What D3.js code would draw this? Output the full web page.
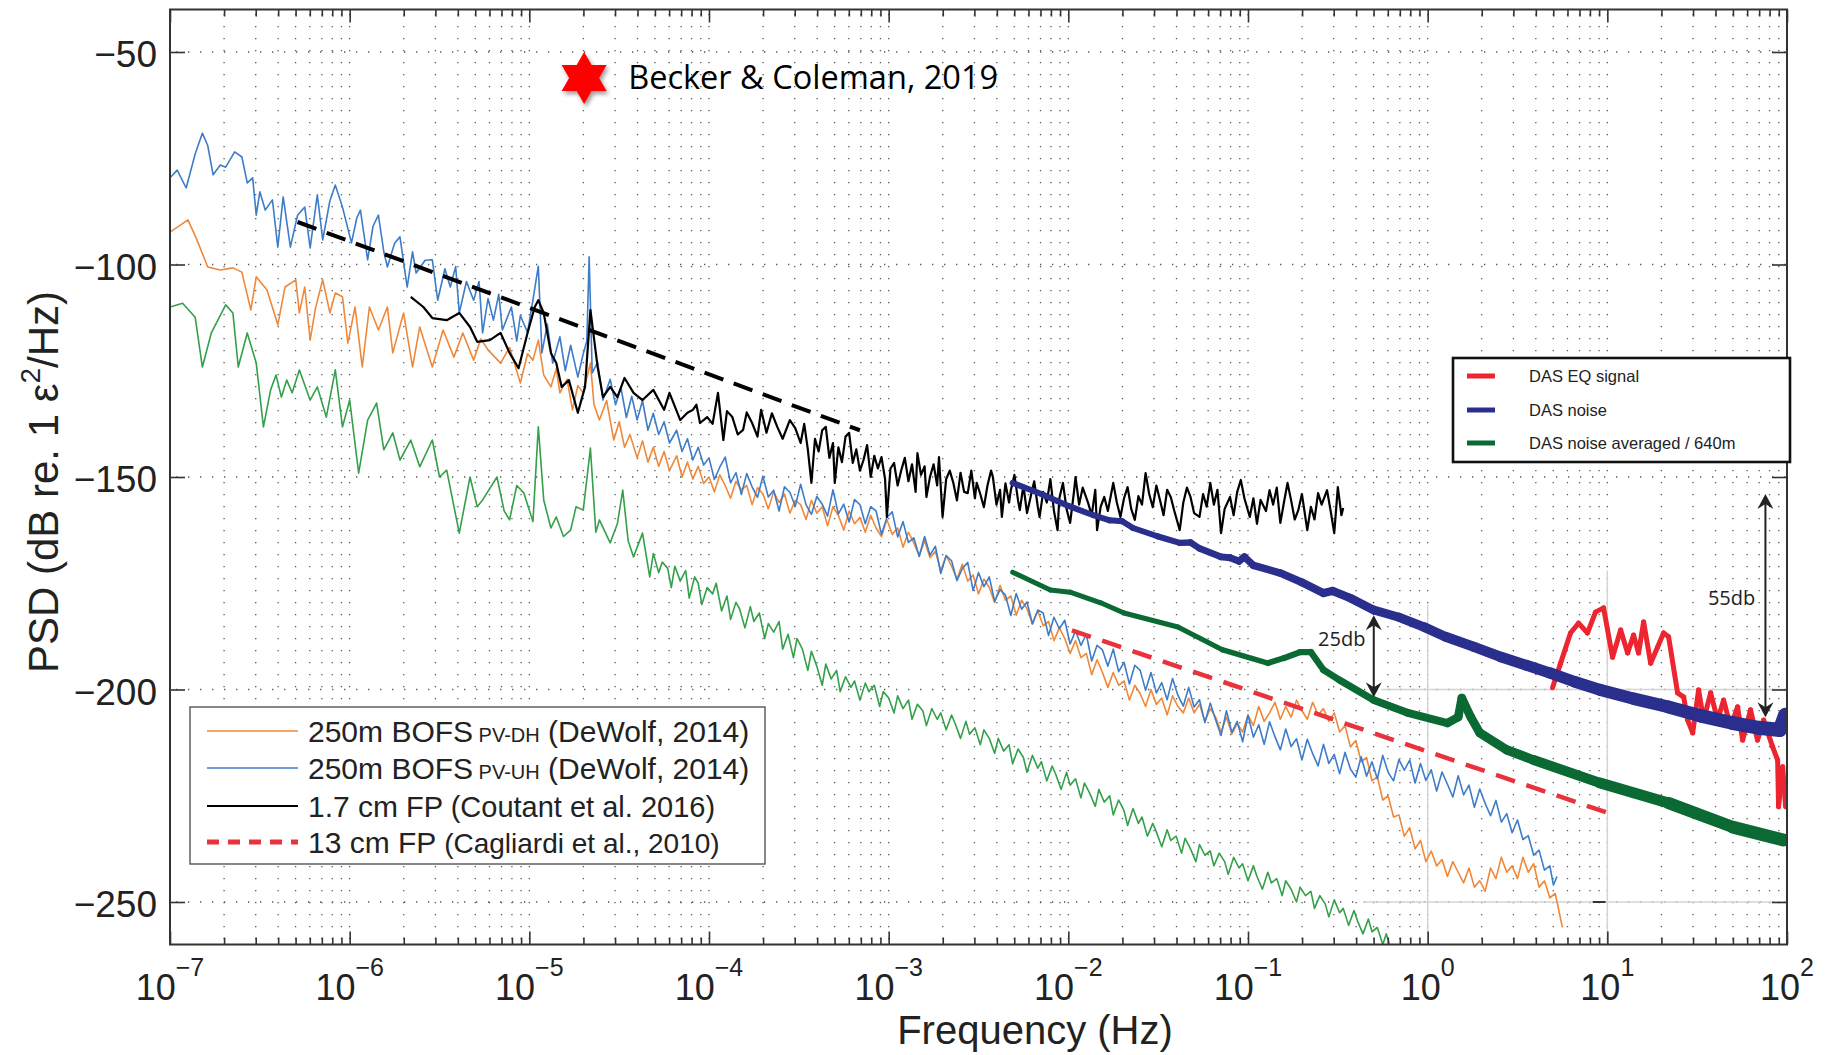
<!DOCTYPE html>
<html>
<head>
<meta charset="utf-8">
<script src="https://cdn.jsdelivr.net/npm/d3@7"></script>
<style>
  body { margin: 0; background: #fff; }
  svg { display: block; font-family: "Liberation Sans", Arial, Helvetica, sans-serif; }
</style>
</head>
<body>
<script>
// every series: [log10 frequency (Hz), PSD (dB)]
const pvDh = [[-7.00,-92.4],[-6.90,-89.5],[-6.85,-94.2],[-6.79,-100.6],[-6.72,-101.3],[-6.65,-100.8],[-6.60,-101.8],[-6.55,-110.7],[-6.52,-102.9],[-6.46,-106.0],[-6.40,-114.2],[-6.36,-105.3],[-6.30,-103.6],[-6.28,-111.4],[-6.25,-105.3],[-6.22,-117.8],[-6.19,-110.2],[-6.15,-103.6],[-6.11,-111.4],[-6.08,-106.7],[-6.04,-107.6],[-6.01,-118.5],[-5.97,-110.0],[-5.93,-124.1],[-5.89,-110.0],[-5.84,-115.4],[-5.79,-110.0],[-5.76,-120.8],[-5.70,-111.4],[-5.65,-124.1],[-5.61,-114.7],[-5.54,-124.1],[-5.48,-115.4],[-5.42,-121.8],[-5.37,-116.1],[-5.31,-122.5],[-5.27,-117.5],[-5.23,-120.1],[-5.16,-123.2],[-5.11,-119.5],[-5.05,-127.9],[-5.01,-121.0],[-4.98,-122.5],[-4.95,-117.8],[-4.92,-126.0],[-4.88,-128.8],[-4.85,-124.5],[-4.83,-130.2],[-4.79,-127.0],[-4.76,-134.2],[-4.73,-128.5],[-4.70,-130.2],[-4.66,-123.2],[-4.64,-133.0],[-4.61,-136.6],[-4.57,-132.0],[-4.53,-141.3],[-4.50,-137.0],[-4.47,-143.0],[-4.44,-140.0],[-4.40,-145.5],[-4.37,-141.5],[-4.34,-146.5],[-4.31,-143.0],[-4.28,-147.5],[-4.25,-144.0],[-4.22,-148.5],[-4.18,-145.0],[-4.15,-150.0],[-4.12,-146.5],[-4.09,-150.5],
  [-4.06,-147.5],[-4.03,-151.5],[-4.00,-150.0],[-3.97,-153.5],[-3.94,-149.5],[-3.91,-152.0],[-3.88,-155.0],[-3.85,-151.0],[-3.82,-153.0],[-3.79,-152.0],[-3.76,-156.5],[-3.73,-152.5],[-3.70,-154.0],[-3.67,-157.5],[-3.64,-153.5],[-3.61,-156.0],[-3.58,-154.0],[-3.55,-158.5],[-3.52,-155.5],[-3.49,-156.5],[-3.46,-160.0],[-3.43,-155.5],[-3.40,-158.5],[-3.37,-157.0],[-3.34,-161.5],[-3.31,-157.0],[-3.28,-159.0],[-3.25,-162.5],[-3.22,-158.0],[-3.19,-161.0],[-3.16,-159.5],[-3.13,-163.0],[-3.10,-159.0],[-3.07,-162.0],[-3.04,-164.0],[-3.01,-160.0],[-2.98,-163.5],[-2.95,-162.0],[-2.92,-166.5],[-2.89,-163.0],[-2.86,-165.5],[-2.83,-168.5],[-2.80,-165.0],[-2.77,-169.0],[-2.74,-167.5],[-2.71,-172.0],[-2.68,-168.5],[-2.65,-171.0],[-2.62,-174.0],[-2.59,-170.5],[-2.56,-174.5],[-2.53,-173.0],[-2.50,-177.5],[-2.47,-174.0],[-2.44,-176.0],[-2.41,-179.5],[-2.38,-175.5],[-2.35,-179.0],[-2.32,-178.0],[-2.29,-182.5],[-2.26,-179.0],[-2.23,-181.0],[-2.20,-184.5],[-2.17,-181.5],[-2.14,-185.0],[-2.11,-184.0],[-2.08,-188.5],[-2.05,-185.5],[-2.02,-188.0],[-1.99,-191.5],[-1.96,-188.5],[-1.93,-192.5],[-1.90,-191.5],[-1.87,-196.5],[-1.84,-193.0],[-1.81,-196.0],[-1.78,-199.5],[-1.75,-196.0],[-1.72,-199.0],[-1.69,-198.0],[-1.66,-202.5],[-1.63,-199.0],[-1.60,-201.0],[-1.57,-204.0],[-1.54,-200.0],[-1.51,-203.5],[-1.48,-202.0],[-1.45,-206.0],[-1.42,-201.5],[-1.39,-204.0],[-1.36,-205.5],[-1.33,-202.0],[-1.30,-205.5],[-1.27,-203.5],[-1.24,-207.5],[-1.21,-204.5],[-1.18,-206.5],[-1.15,-210.0],[-1.12,-206.5],[-1.09,-210.5],[-1.06,-208.0],[-1.03,-210.0],[-1.00,-206.0],[-0.97,-208.5],[-0.94,-204.0],[-0.91,-207.5],[-0.88,-205.5],[-0.85,-203.0],[-0.82,-207.0],[-0.79,-204.0],[-0.76,-206.5],[-0.73,-202.5],[-0.70,-205.0],[-0.67,-207.0],[-0.64,-203.0],[-0.61,-206.0],[-0.58,-204.5],[-0.55,-207.5],[-0.52,-205.5],[-0.49,-210.0],[-0.46,-208.5],[-0.43,-213.5],[-0.40,-212.0],[-0.37,-217.0],[-0.34,-216.0],[-0.31,-221.5],[-0.28,-220.5],[-0.25,-226.0],[-0.22,-225.0],[-0.19,-230.0],[-0.16,-229.5],[-0.13,-234.5],[-0.10,-232.5],[-0.07,-237.5],[-0.04,-235.5],[-0.01,-240.5],[0.02,-238.0],[0.05,-241.5],[0.08,-240.0],[0.11,-244.0],[0.14,-240.5],[0.17,-243.0],[0.20,-245.5],[0.23,-242.0],[0.26,-246.5],[0.29,-245.0],[0.32,-247.5],[0.35,-242.0],[0.38,-244.5],[0.41,-239.5],[0.44,-243.0],[0.47,-241.5],[0.50,-244.5],[0.53,-239.5],[0.56,-243.0],[0.59,-241.0],[0.62,-246.5],[0.65,-245.0],[0.68,-249.0],[0.71,-248.0],[0.73,-252.0],[0.75,-256.0]];

const pvUh = [[-7.00,-79.6],[-6.96,-77.8],[-6.91,-82.0],[-6.86,-74.0],[-6.82,-69.1],[-6.79,-72.0],[-6.76,-78.9],[-6.72,-76.6],[-6.69,-77.1],[-6.64,-73.5],[-6.60,-74.7],[-6.57,-80.8],[-6.54,-79.6],[-6.52,-88.4],[-6.50,-82.9],[-6.47,-87.2],[-6.43,-84.8],[-6.40,-95.9],[-6.37,-84.1],[-6.33,-95.9],[-6.29,-88.4],[-6.25,-86.5],[-6.22,-96.1],[-6.18,-83.6],[-6.15,-94.2],[-6.11,-85.0],[-6.08,-81.3],[-6.04,-86.5],[-5.99,-94.9],[-5.96,-89.0],[-5.94,-87.2],[-5.90,-98.9],[-5.87,-91.0],[-5.84,-88.4],[-5.81,-97.0],[-5.79,-100.6],[-5.75,-95.0],[-5.72,-93.5],[-5.68,-105.3],[-5.65,-97.0],[-5.63,-102.0],[-5.58,-99.0],[-5.54,-98.9],[-5.51,-108.4],[-5.47,-101.0],[-5.44,-105.3],[-5.41,-100.5],[-5.39,-111.4],[-5.35,-104.0],[-5.31,-108.4],[-5.28,-104.0],[-5.26,-116.1],[-5.23,-108.0],[-5.20,-113.1],[-5.17,-107.0],[-5.15,-115.4],[-5.10,-110.0],[-5.07,-118.0],[-5.05,-112.0],[-5.01,-116.0],[-4.98,-108.4],[-4.95,-100.4],[-4.93,-120.8],[-4.90,-114.0],[-4.87,-123.2],[-4.83,-117.0],[-4.80,-125.0],[-4.77,-119.0],[-4.73,-126.5],[-4.70,-121.0],[-4.68,-118.0],[-4.667,-98.2],[-4.65,-125.5],[-4.62,-123.0],[-4.59,-131.9],[-4.55,-127.0],[-4.52,-133.0],[-4.49,-129.0],[-4.46,-136.0],[-4.43,-131.0],[-4.40,-136.6],[-4.37,-132.0],[-4.34,-139.0],[-4.31,-135.0],[-4.28,-140.0],[-4.25,-137.0],[-4.22,-142.0],[-4.18,-139.0],[-4.15,-144.0],[-4.12,-141.0],[-4.09,-146.0],
  [-4.06,-143.0],[-4.03,-147.2],[-4.00,-145.5],[-3.97,-150.6],[-3.94,-147.7],[-3.91,-145.3],[-3.88,-151.4],[-3.85,-149.0],[-3.82,-154.1],[-3.79,-149.2],[-3.76,-152.3],[-3.73,-154.8],[-3.70,-149.8],[-3.67,-154.7],[-3.64,-153.1],[-3.61,-158.0],[-3.58,-152.3],[-3.55,-153.6],[-3.52,-156.9],[-3.49,-151.7],[-3.46,-156.5],[-3.43,-158.8],[-3.40,-154.6],[-3.37,-156.4],[-3.34,-159.2],[-3.31,-153.0],[-3.28,-158.7],[-3.25,-156.4],[-3.22,-160.6],[-3.19,-155.3],[-3.16,-156.5],[-3.13,-161.0],[-3.10,-157.0],[-3.07,-158.0],[-3.04,-163.5],[-3.01,-159.5],[-2.98,-158.2],[-2.95,-164.1],[-2.92,-160.5],[-2.89,-165.4],[-2.86,-164.3],[-2.83,-168.7],[-2.80,-164.0],[-2.77,-168.4],[-2.74,-166.3],[-2.71,-172.7],[-2.68,-168.5],[-2.65,-169.7],[-2.62,-174.4],[-2.59,-171.5],[-2.56,-170.1],[-2.53,-176.7],[-2.50,-172.5],[-2.47,-175.8],[-2.44,-173.5],[-2.41,-179.3],[-2.38,-176.5],[-2.35,-177.8],[-2.32,-182.6],[-2.29,-177.4],[-2.26,-181.1],[-2.23,-179.4],[-2.20,-184.6],[-2.17,-181.3],[-2.14,-182.0],[-2.11,-187.3],[-2.08,-183.0],[-2.05,-185.7],[-2.02,-183.7],[-1.99,-189.3],[-1.96,-186.2],[-1.93,-189.6],[-1.90,-187.0],[-1.87,-193.3],[-1.84,-189.6],[-1.81,-190.7],[-1.78,-194.5],[-1.75,-190.5],[-1.72,-195.8],[-1.69,-193.6],[-1.66,-198.7],[-1.63,-194.3],[-1.60,-195.5],[-1.57,-200.2],[-1.54,-196.0],[-1.51,-200.8],[-1.48,-198.4],[-1.45,-202.4],[-1.42,-197.4],[-1.39,-201.4],[-1.36,-203.9],[-1.33,-199.5],[-1.30,-204.1],[-1.27,-202.4],[-1.24,-207.8],[-1.21,-203.2],[-1.18,-207.2],[-1.15,-210.8],[-1.12,-205.0],[-1.09,-210.1],[-1.06,-207.5],[-1.03,-212.3],[-1.00,-206.0],[-0.97,-211.2],[-0.94,-208.3],[-0.91,-212.9],[-0.88,-207.6],[-0.85,-211.1],[-0.82,-214.2],[-0.79,-209.3],[-0.76,-213.4],[-0.73,-211.6],[-0.70,-216.6],[-0.67,-211.7],[-0.64,-215.1],[-0.61,-218.0],[-0.58,-212.9],[-0.55,-217.4],[-0.52,-215.3],[-0.49,-219.8],[-0.46,-214.8],[-0.43,-218.7],[-0.40,-220.6],[-0.37,-215.8],[-0.34,-220.4],[-0.31,-217.0],[-0.28,-221.0],[-0.25,-215.5],[-0.22,-219.5],[-0.19,-221.5],[-0.16,-216.5],[-0.13,-219.0],[-0.10,-216.6],[-0.07,-222.0],[-0.04,-217.4],[-0.01,-221.4],[0.02,-218.9],[0.05,-223.9],[0.08,-219.4],[0.11,-222.3],[0.14,-225.3],[0.17,-220.3],[0.20,-224.8],[0.23,-222.5],[0.26,-227.7],[0.29,-223.4],[0.32,-226.8],[0.35,-229.7],[0.38,-226.1],[0.41,-231.2],[0.44,-229.2],[0.47,-233.7],[0.50,-230.7],[0.53,-235.3],[0.56,-234.4],[0.59,-239.0],[0.62,-237.8],[0.65,-242.5],[0.68,-241.5],[0.70,-246.0],[0.72,-244.0]];

const pvGreen = [[-7.00,-110.0],[-6.93,-109.1],[-6.86,-112.4],[-6.82,-124.1],[-6.77,-116.1],[-6.69,-109.5],[-6.65,-111.4],[-6.62,-124.1],[-6.57,-116.1],[-6.52,-123.2],[-6.48,-138.2],[-6.44,-129.5],[-6.41,-126.0],[-6.38,-131.2],[-6.35,-127.2],[-6.32,-130.2],[-6.28,-124.8],[-6.22,-131.9],[-6.18,-128.8],[-6.13,-135.9],[-6.08,-124.8],[-6.04,-138.2],[-6.00,-131.9],[-5.95,-149.1],[-5.90,-136.6],[-5.85,-132.6],[-5.81,-143.6],[-5.76,-139.6],[-5.72,-146.0],[-5.66,-141.3],[-5.61,-147.6],[-5.54,-141.3],[-5.50,-150.0],[-5.46,-148.4],[-5.39,-163.2],[-5.33,-150.0],[-5.29,-157.0],[-5.26,-155.4],[-5.18,-150.0],[-5.14,-158.0],[-5.11,-160.1],[-5.07,-152.0],[-5.03,-153.8],[-4.98,-160.5],[-4.95,-138.2],[-4.92,-155.4],[-4.88,-162.0],[-4.85,-159.4],[-4.81,-164.0],[-4.77,-162.5],[-4.74,-157.0],[-4.70,-157.8],[-4.66,-143.2],[-4.63,-163.0],[-4.61,-160.1],[-4.55,-165.5],[-4.51,-161.0],[-4.48,-153.1],[-4.45,-165.0],[-4.42,-168.8],[-4.37,-163.2],
  [-4.33,-173.5],[-4.31,-168.0],[-4.28,-172.5],[-4.26,-170.0],[-4.23,-171.5],[-4.21,-176.0],[-4.19,-171.0],[-4.16,-174.5],[-4.13,-172.0],[-4.11,-178.5],[-4.08,-173.5],[-4.06,-175.0],[-4.04,-180.0],[-4.01,-176.0],[-3.98,-177.5],[-3.96,-175.0],[-3.93,-181.5],[-3.90,-178.0],[-3.88,-183.5],[-3.85,-179.5],[-3.83,-181.0],[-3.80,-185.5],[-3.77,-180.5],[-3.75,-184.0],[-3.72,-182.0],[-3.69,-188.0],[-3.67,-184.5],[-3.64,-186.5],[-3.61,-184.0],[-3.59,-190.5],[-3.56,-187.0],[-3.53,-192.5],[-3.51,-188.0],[-3.48,-190.5],[-3.45,-195.5],[-3.43,-191.0],[-3.40,-194.5],[-3.37,-199.0],[-3.35,-194.0],[-3.32,-197.5],[-3.29,-195.5],[-3.27,-200.5],[-3.24,-197.0],[-3.21,-199.5],[-3.19,-198.0],[-3.16,-202.5],[-3.13,-198.5],[-3.11,-200.5],[-3.08,-199.0],[-3.05,-204.0],[-3.03,-200.5],[-3.00,-202.0],[-2.97,-205.5],[-2.95,-201.5],[-2.92,-204.5],[-2.89,-202.5],[-2.87,-207.0],[-2.84,-203.5],[-2.81,-205.0],[-2.79,-208.5],[-2.76,-204.5],[-2.73,-207.0],[-2.71,-205.5],[-2.68,-209.5],[-2.65,-206.0],[-2.63,-208.0],[-2.60,-211.5],[-2.57,-207.5],[-2.55,-210.5],[-2.52,-209.0],[-2.49,-213.0],[-2.47,-209.5],[-2.44,-211.5],[-2.41,-215.0],[-2.39,-211.5],[-2.36,-214.5],[-2.33,-213.0],[-2.31,-217.5],[-2.28,-214.0],[-2.25,-216.0],[-2.23,-219.5],[-2.20,-215.5],[-2.17,-218.5],[-2.15,-217.0],[-2.12,-221.5],[-2.09,-218.0],[-2.07,-220.0],[-2.04,-223.5],[-2.01,-219.5],[-1.99,-222.5],[-1.96,-221.0],[-1.93,-225.5],[-1.91,-222.0],[-1.88,-224.5],[-1.85,-227.5],[-1.83,-223.5],[-1.80,-226.5],[-1.77,-225.0],[-1.75,-229.5],[-1.72,-226.0],[-1.69,-228.5],[-1.67,-232.0],[-1.64,-228.0],[-1.61,-231.5],[-1.59,-230.0],[-1.56,-234.5],[-1.53,-231.5],[-1.51,-233.5],[-1.48,-237.0],[-1.45,-233.0],[-1.43,-235.5],[-1.40,-234.5],[-1.37,-238.5],[-1.35,-235.0],[-1.32,-237.5],[-1.29,-240.5],[-1.27,-236.5],[-1.24,-239.0],[-1.21,-238.0],[-1.19,-241.5],[-1.16,-238.5],[-1.13,-240.5],[-1.11,-243.5],[-1.08,-239.5],[-1.05,-242.0],[-1.03,-241.0],[-1.00,-245.0],[-0.97,-241.5],[-0.95,-244.0],[-0.92,-247.0],[-0.89,-243.0],[-0.87,-245.5],[-0.84,-244.5],[-0.81,-248.5],[-0.79,-245.0],[-0.76,-247.0],[-0.73,-250.0],[-0.71,-246.5],[-0.68,-248.5],[-0.65,-247.5],[-0.63,-251.5],[-0.60,-248.5],[-0.57,-250.5],[-0.55,-253.5],[-0.52,-249.5],[-0.49,-252.5],[-0.47,-251.5],[-0.44,-255.5],[-0.41,-252.0],[-0.39,-254.5],[-0.36,-257.5],[-0.33,-254.0],[-0.31,-257.0],[-0.28,-256.0],[-0.25,-260.0],[-0.23,-257.5],[-0.20,-262.0]];

const fp17 = [[-5.66,-107.6],[-5.59,-110.0],[-5.54,-112.6],[-5.46,-113.1],[-5.39,-111.4],[-5.33,-114.7],[-5.29,-118.2],[-5.22,-117.8],[-5.16,-116.1],[-5.11,-120.8],[-5.06,-124.4],[-5.01,-116.1],[-4.97,-110.0],[-4.95,-108.4],[-4.92,-111.4],[-4.88,-120.8],[-4.85,-123.2],[-4.82,-128.8],[-4.78,-127.2],[-4.73,-134.9],[-4.69,-128.8],[-4.66,-110.7],[-4.62,-124.1],[-4.59,-131.2],[-4.55,-128.8],[-4.51,-131.2],[-4.47,-126.7],[-4.42,-130.2],[-4.37,-131.9],[-4.31,-129.5],[-4.25,-134.2],[-4.22,-130.2],[-4.16,-136.6],[-4.12,-134.9],[-4.09,-134.2],[-4.07,-133.0],[-4.05,-137.3],[-4.01,-135.9],[-3.98,-137.5],[-3.95,-130.2],[-3.92,-141.3],[-3.90,-134.5],[-3.87,-135.9],[-3.84,-140.0],[-3.81,-138.9],[-3.79,-134.8],[-3.76,-137.3],[-3.73,-140.5],[-3.71,-134.2],[-3.68,-139.6],[-3.65,-135.0],[-3.62,-138.2],[-3.59,-141.0],[-3.55,-136.6],[-3.52,-138.5],
  [-3.49,-142.0],[-3.47,-137.5],[-3.45,-143.5],[-3.43,-151.4],[-3.41,-141.0],[-3.39,-144.0],[-3.37,-139.0],[-3.35,-138.2],[-3.33,-145.5],[-3.31,-142.0],[-3.30,-151.4],[-3.28,-143.0],[-3.26,-146.5],[-3.24,-140.5],[-3.22,-139.6],[-3.20,-146.7],[-3.18,-143.5],[-3.16,-148.5],[-3.14,-146.0],[-3.12,-142.5],[-3.10,-150.0],[-3.08,-145.0],[-3.06,-148.0],[-3.04,-145.3],[-3.02,-150.5],[-3.01,-159.4],[-2.99,-148.0],[-2.97,-146.7],[-2.95,-152.0],[-2.93,-148.4],[-2.91,-145.5],[-2.89,-151.0],[-2.87,-147.0],[-2.85,-153.5],[-2.84,-144.4],[-2.82,-149.5],[-2.80,-147.5],[-2.79,-154.7],[-2.77,-150.0],[-2.75,-147.0],[-2.73,-152.0],[-2.72,-145.3],[-2.70,-159.4],[-2.68,-150.5],[-2.66,-148.5],[-2.64,-151.4],[-2.62,-155.5],[-2.60,-149.0],[-2.58,-153.5],[-2.56,-153.8],[-2.54,-148.5],[-2.52,-155.0],[-2.51,-151.4],[-2.49,-154.0],[-2.47,-157.1],[-2.45,-152.0],[-2.43,-148.5],[-2.42,-150.0],[-2.40,-156.5],[-2.38,-153.0],[-2.37,-159.4],[-2.35,-151.5],[-2.33,-156.0],[-2.32,-153.1],[-2.30,-149.5],[-2.28,-155.5],[-2.27,-157.8],[-2.25,-152.0],[-2.23,-158.5],[-2.21,-154.7],[-2.19,-151.0],[-2.17,-157.0],[-2.16,-159.4],[-2.14,-153.5],[-2.12,-156.0],[-2.10,-150.5],[-2.08,-158.0],[-2.06,-162.5],[-2.05,-155.0],[-2.03,-151.4],[-2.01,-157.5],[-1.99,-160.8],[-1.97,-154.0],[-1.96,-150.0],
  [-1.94,-156.5],[-1.92,-152.5],[-1.89,-156.1],[-1.87,-159.0],[-1.85,-153.0],[-1.84,-162.5],[-1.82,-157.0],[-1.80,-154.7],[-1.78,-158.0],[-1.75,-151.4],[-1.73,-156.0],[-1.71,-159.4],[-1.69,-155.0],[-1.67,-152.4],[-1.65,-157.5],[-1.63,-160.1],[-1.61,-154.5],[-1.59,-156.5],[-1.57,-149.1],[-1.55,-154.0],[-1.53,-157.1],[-1.51,-152.0],[-1.49,-155.4],[-1.47,-159.0],[-1.45,-153.0],[-1.43,-154.7],[-1.41,-158.0],[-1.38,-162.5],[-1.36,-156.0],[-1.34,-152.5],[-1.32,-154.7],[-1.30,-158.5],[-1.27,-159.4],[-1.25,-154.0],[-1.23,-157.0],[-1.21,-151.4],[-1.19,-156.5],[-1.17,-153.0],[-1.15,-163.2],[-1.13,-157.5],[-1.10,-154.7],[-1.08,-159.0],[-1.06,-153.5],[-1.04,-150.7],[-1.02,-155.0],[-0.99,-159.4],[-0.97,-155.0],[-0.95,-161.0],[-0.93,-155.4],[-0.90,-158.0],[-0.88,-153.1],[-0.86,-156.5],[-0.84,-152.5],[-0.82,-160.8],[-0.80,-156.0],[-0.78,-151.4],[-0.76,-155.5],[-0.74,-160.0],[-0.72,-157.8],[-0.70,-154.0],[-0.67,-162.5],[-0.65,-157.0],[-0.63,-160.0],[-0.61,-153.8],[-0.59,-156.5],[-0.56,-153.1],[-0.54,-158.0],[-0.52,-163.2],[-0.50,-152.4],[-0.48,-159.0],[-0.47,-157.3]];

const trendFp17 = [[-6.29,-90.0],[-3.16,-139.0]];
const fp13 = [[-1.98,-186.1],[1.00,-229.0]];

const dasNoise = [[-2.31,-151.4],[-2.15,-154.0],[-2.00,-156.8],[-1.86,-159.0],[-1.77,-160.2],[-1.70,-160.4],[-1.64,-162.0],[-1.50,-164.0],[-1.38,-165.5],[-1.32,-165.4],[-1.27,-166.8],[-1.15,-168.8],[-1.10,-169.0],[-1.05,-169.8],[-1.02,-168.8],[-0.97,-170.8],[-0.82,-172.6],[-0.70,-174.8],[-0.58,-177.3],[-0.53,-176.8],[-0.43,-178.5],[-0.30,-181.3],[-0.16,-183.0],[-0.02,-185.3],[0.10,-187.6],[0.26,-190.0],[0.41,-192.4],[0.55,-194.3],[0.68,-196.1],[0.82,-198.2],[0.96,-200.1],[1.15,-202.2],[1.34,-204.1],[1.52,-206.2],[1.70,-207.9],[1.84,-209.0],[1.96,-209.5],[1.99,-206.0]];

const dasAveraged = [[-2.31,-172.4],[-2.10,-176.6],[-1.99,-177.1],[-1.82,-179.6],[-1.69,-182.0],[-1.39,-185.3],[-1.14,-190.7],[-0.89,-193.8],[-0.80,-192.6],[-0.71,-191.2],[-0.65,-191.2],[-0.58,-195.4],[-0.49,-197.8],[-0.30,-202.5],[-0.11,-205.5],[0.11,-207.9],[0.17,-206.5],[0.19,-202.0],[0.24,-206.5],[0.29,-210.2],[0.44,-214.2],[0.59,-216.6],[0.96,-222.0],[1.34,-226.7],[1.70,-232.4],[1.98,-235.4]];

const dasEq = [[0.695,-199.6],[0.740,-193.8],[0.795,-186.7],[0.840,-184.4],[0.890,-186.7],[0.934,-181.8],[0.979,-180.8],[1.029,-192.4],[1.074,-186.0],[1.113,-191.4],[1.146,-187.2],[1.174,-191.4],[1.202,-184.1],[1.241,-193.8],[1.280,-190.0],[1.313,-186.7],[1.341,-187.6],[1.391,-200.8],[1.425,-201.8],[1.447,-207.2],[1.475,-210.2],[1.508,-200.1],[1.536,-207.2],[1.575,-200.8],[1.614,-207.2],[1.647,-202.5],[1.686,-208.8],[1.725,-204.1],[1.753,-211.9],[1.797,-204.8],[1.836,-211.9],[1.870,-207.2],[1.920,-213.5],[1.948,-216.6],[1.953,-227.6],[1.976,-218.2],[1.992,-227.6]];

const yTicks = [-250, -200, -150, -100, -50];
const xDecades = [-7, -6, -5, -4, -3, -2, -1, 0, 1, 2];

// arrows: [log10 f, top dB, bottom dB, label, label log10 f, label dB]
const arrows = [[-0.30, -182.5, -201.8, '25db', -0.61, -189.8], [1.88, -154.0, -206.5, '55db', 1.56, -180.1]];

const W = 1831, H = 1055;
const x = d3.scaleLog().domain([1e-7, 1e2]).range([170, 1787]);
const y = d3.scaleLinear().domain([-260, -40]).range([944.5, 9.5]);
const px = e => x(Math.pow(10, e));
const line = d3.line().x(d => px(d[0])).y(d => y(d[1]));

const svg = d3.select('body').append('svg').attr('width', W).attr('height', H);
const defs = svg.append('defs');
defs.append('clipPath').attr('id', 'plot')
  .append('rect').attr('x', 170).attr('y', 9.5).attr('width', 1617).attr('height', 935);
defs.append('filter').attr('id', 'shadow').attr('x', '-50%').attr('y', '-50%').attr('width', '200%').attr('height', '200%')
  .append('feDropShadow').attr('dx', 2).attr('dy', 3).attr('stdDeviation', 2)
  .attr('flood-color', '#000').attr('flood-opacity', 0.4);

// dotted grid
const gridX = [];
xDecades.forEach(e => {
  for (let k = 1; k <= 9; k++) {
    const v = k * Math.pow(10, e);
    if (v <= 100.0001) gridX.push(v);
  }
});
const grid = svg.append('g').attr('stroke', '#555').attr('stroke-width', 1.3).attr('stroke-dasharray', '1.3,10.7');
grid.selectAll('.gx').data(gridX).join('line')
  .attr('x1', d => x(d)).attr('x2', d => x(d))
  .attr('y1', 14).attr('y2', 944);
grid.selectAll('.gy').data(yTicks).join('line')
  .attr('x1', 176).attr('x2', 1787)
  .attr('y1', d => y(d)).attr('y2', d => y(d));

// faint leftovers of the pasted panels
const faint = svg.append('g').attr('stroke', '#d4d4d4').attr('stroke-width', 1.5);
faint.append('line').attr('x1', px(-0.26)).attr('x2', px(2)).attr('y1', y(-200)).attr('y2', y(-200));
faint.append('line').attr('x1', px(-0.36)).attr('x2', px(2)).attr('y1', y(-250)).attr('y2', y(-250));
faint.append('line').attr('x1', px(0)).attr('x2', px(0)).attr('y1', y(-180)).attr('y2', y(-260));
faint.append('line').attr('x1', px(1)).attr('x2', px(1)).attr('y1', y(-172)).attr('y2', y(-260));
svg.append('line').attr('x1', px(0.92)).attr('x2', px(0.99)).attr('y1', y(-250)).attr('y2', y(-250))
  .attr('stroke', '#333').attr('stroke-width', 2);

// curves
const plot = svg.append('g').attr('clip-path', 'url(#plot)').attr('fill', 'none')
  .attr('stroke-linejoin', 'round');
plot.append('path').attr('d', line(pvGreen)).attr('stroke', '#33a04a').attr('stroke-width', 1.6);
plot.append('path').attr('d', line(pvDh)).attr('stroke', '#f0883a').attr('stroke-width', 1.6);
plot.append('path').attr('d', line(pvUh)).attr('stroke', '#3d7cc9').attr('stroke-width', 1.6);
plot.append('path').attr('d', line(fp17)).attr('stroke', '#000').attr('stroke-width', 2.2);
plot.append('path').attr('d', line(trendFp17)).attr('stroke', '#000').attr('stroke-width', 4)
  .attr('stroke-dasharray', '20,11');
plot.append('path').attr('d', line(fp13)).attr('stroke', '#e8333c').attr('stroke-width', 4.5)
  .attr('stroke-dasharray', '20,12');

// DAS curves get thicker to the right, like the noisy bands in the figure
function thickLine(data, color, w0, grow, start) {
  const segs = d3.pairs(data);
  plot.append('g').selectAll('path').data(segs).join('path')
    .attr('d', d => line(d))
    .attr('stroke', color).attr('stroke-linecap', 'round')
    .attr('stroke-width', d => w0 + grow * Math.max(0, (d[0][0] + d[1][0]) / 2 - start));
}
thickLine(dasAveraged, '#0b6a34', 5, 2.6, -1.2);
thickLine(dasEq, '#ec2530', 5, 0, 0);
thickLine(dasNoise, '#2a2f8e', 6, 2.4, -1.5);

// arrows
const ann = svg.append('g').attr('fill', '#222').attr('stroke', '#222');
arrows.forEach(a => {
  const ax = px(a[0]), y1 = y(a[1]), y2 = y(a[2]);
  ann.append('line').attr('x1', ax).attr('x2', ax).attr('y1', y1 + 4).attr('y2', y2 - 4).attr('stroke-width', 2);
  ann.append('path').attr('stroke', 'none')
    .attr('d', `M${ax},${y1} L${ax - 8},${y1 + 15} L${ax},${y1 + 10} L${ax + 8},${y1 + 15}Z`);
  ann.append('path').attr('stroke', 'none')
    .attr('d', `M${ax},${y2} L${ax - 8},${y2 - 15} L${ax},${y2 - 10} L${ax + 8},${y2 - 15}Z`);
  svg.append('text').attr('x', px(a[4])).attr('y', y(a[5]))
    .attr('font-family', '"Open Sans", "DejaVu Sans", sans-serif').attr('font-size', 20)
    .attr('fill', '#222').text(a[3]);
});

// axes: MATLAB style, ticks inside on all four sides
const majorX = xDecades.map(e => Math.pow(10, e));
const minorX = gridX.filter(v => !majorX.some(m => Math.abs(v - m) < m * 1e-9));
const axisStyle = g => {
  g.select('.domain').remove();
  g.selectAll('.tick line').attr('stroke', '#333').attr('stroke-width', 1.6);
};
svg.append('g').attr('transform', 'translate(0,944.5)')
  .call(d3.axisBottom(x).tickValues(minorX).tickSize(-7).tickFormat('')).call(axisStyle);
svg.append('g').attr('transform', 'translate(0,944.5)')
  .call(d3.axisBottom(x).tickValues(majorX).tickSize(-13).tickFormat('')).call(axisStyle);
svg.append('g').attr('transform', 'translate(0,9.5)')
  .call(d3.axisTop(x).tickValues(minorX).tickSize(-7).tickFormat('')).call(axisStyle);
svg.append('g').attr('transform', 'translate(0,9.5)')
  .call(d3.axisTop(x).tickValues(majorX).tickSize(-13).tickFormat('')).call(axisStyle);
svg.append('g').attr('transform', 'translate(170,0)')
  .call(d3.axisLeft(y).tickValues(yTicks).tickSize(-15).tickPadding(13)).call(axisStyle)
  .call(g => g.selectAll('text').attr('font-size', 37).attr('fill', '#222')
    .attr('font-family', '"Liberation Sans", Arial, sans-serif').attr('dy', '0.4em'));
svg.append('g').attr('transform', 'translate(1787,0)')
  .call(d3.axisRight(y).tickValues(yTicks).tickSize(-15).tickFormat('')).call(axisStyle);

svg.append('rect').attr('x', 170).attr('y', 9.5).attr('width', 1617).attr('height', 935)
  .attr('fill', 'none').attr('stroke', '#333').attr('stroke-width', 2);

// x tick labels 10^n
const xl = svg.append('g').attr('fill', '#222').attr('text-anchor', 'middle');
xDecades.forEach(e => {
  const t = xl.append('text').attr('x', x(Math.pow(10, e))).attr('y', 1000).attr('font-size', 36);
  t.append('tspan').text('10');
  t.append('tspan').attr('font-size', 25).attr('dy', -24).text(e < 0 ? '\u2212' + (-e) : String(e));
});

svg.append('text').attr('x', 1035).attr('y', 1044).attr('text-anchor', 'middle')
  .attr('font-size', 40).attr('fill', '#222').text('Frequency (Hz)');

const yl = svg.append('text').attr('transform', 'translate(58,482) rotate(-90)')
  .attr('text-anchor', 'middle').attr('font-size', 42).attr('fill', '#222');
yl.append('tspan').text('PSD (dB re. 1 \u03b5');
yl.append('tspan').attr('font-size', 28).attr('dy', -18).text('2');
yl.append('tspan').attr('dy', 18).text('/Hz)');

// legend of the borehole / FP curves
const legendRows = [
  {color: '#f0883a', dash: null, w: 1.6, parts: [['250m BOFS', 30], [' PV-DH', 20], [' (DeWolf, 2014)', 30]]},
  {color: '#3d7cc9', dash: null, w: 1.6, parts: [['250m BOFS', 30], [' PV-UH', 20], [' (DeWolf, 2014)', 30]]},
  {color: '#000', dash: null, w: 2, parts: [['1.7 cm', 30], [' FP', 29], [' (Coutant et al. 2016)', 29]]},
  {color: '#e8333c', dash: '12,9', w: 5, parts: [['13 cm FP', 30], [' (Cagliardi et al., 2010)', 28]]}
];
const legendY = [731, 768, 806, 842];
svg.append('rect').attr('x', 190).attr('y', 707).attr('width', 575).attr('height', 157)
  .attr('fill', '#fff').attr('stroke', '#555').attr('stroke-width', 1.4);
legendRows.forEach((r, i) => {
  svg.append('line').attr('x1', 207).attr('x2', 298).attr('y1', legendY[i]).attr('y2', legendY[i])
    .attr('stroke', r.color).attr('stroke-width', r.w).attr('stroke-dasharray', r.dash);
  const t = svg.append('text').attr('x', 308).attr('y', legendY[i] + 11).attr('fill', '#222');
  r.parts.forEach(p => t.append('tspan').attr('font-size', p[1]).text(p[0]));
});

// legend of the DAS curves
const dasNames = ['DAS EQ signal', 'DAS noise', 'DAS noise averaged / 640m'];
const dasColors = ['#ec2530', '#2a2f8e', '#0b6a34'];
const dasY = [376, 410, 443];
svg.append('rect').attr('x', 1453).attr('y', 358).attr('width', 337).attr('height', 104)
  .attr('fill', '#fff').attr('stroke', '#111').attr('stroke-width', 2.6);
dasNames.forEach((n, i) => {
  svg.append('line').attr('x1', 1467).attr('x2', 1495).attr('y1', dasY[i]).attr('y2', dasY[i])
    .attr('stroke', dasColors[i]).attr('stroke-width', 5);
  svg.append('text').attr('x', 1529).attr('y', dasY[i] + 6).attr('font-size', 16.5)
    .attr('fill', '#222').text(n);
});

// Becker & Coleman marker
const star = [];
for (let i = 0; i < 12; i++) {
  const a = -Math.PI / 2 + i * Math.PI / 6;
  const r = i % 2 === 0 ? 26 : 15;
  star.push([r * Math.cos(a), r * Math.sin(a)]);
}
svg.append('path').attr('transform', `translate(${px(-4.695)},${y(-56.1)})`)
  .attr('d', 'M' + star.join('L') + 'Z').attr('fill', '#ff0000').attr('filter', 'url(#shadow)');
svg.append('text').attr('x', px(-4.45)).attr('y', y(-58.7))
  .attr('font-family', '"Open Sans", "Noto Sans", sans-serif').attr('font-size', 32)
  .attr('textLength', 370).attr('lengthAdjust', 'spacingAndGlyphs')
  .attr('fill', '#000').text('Becker & Coleman, 2019');
</script>
</body>
</html>
